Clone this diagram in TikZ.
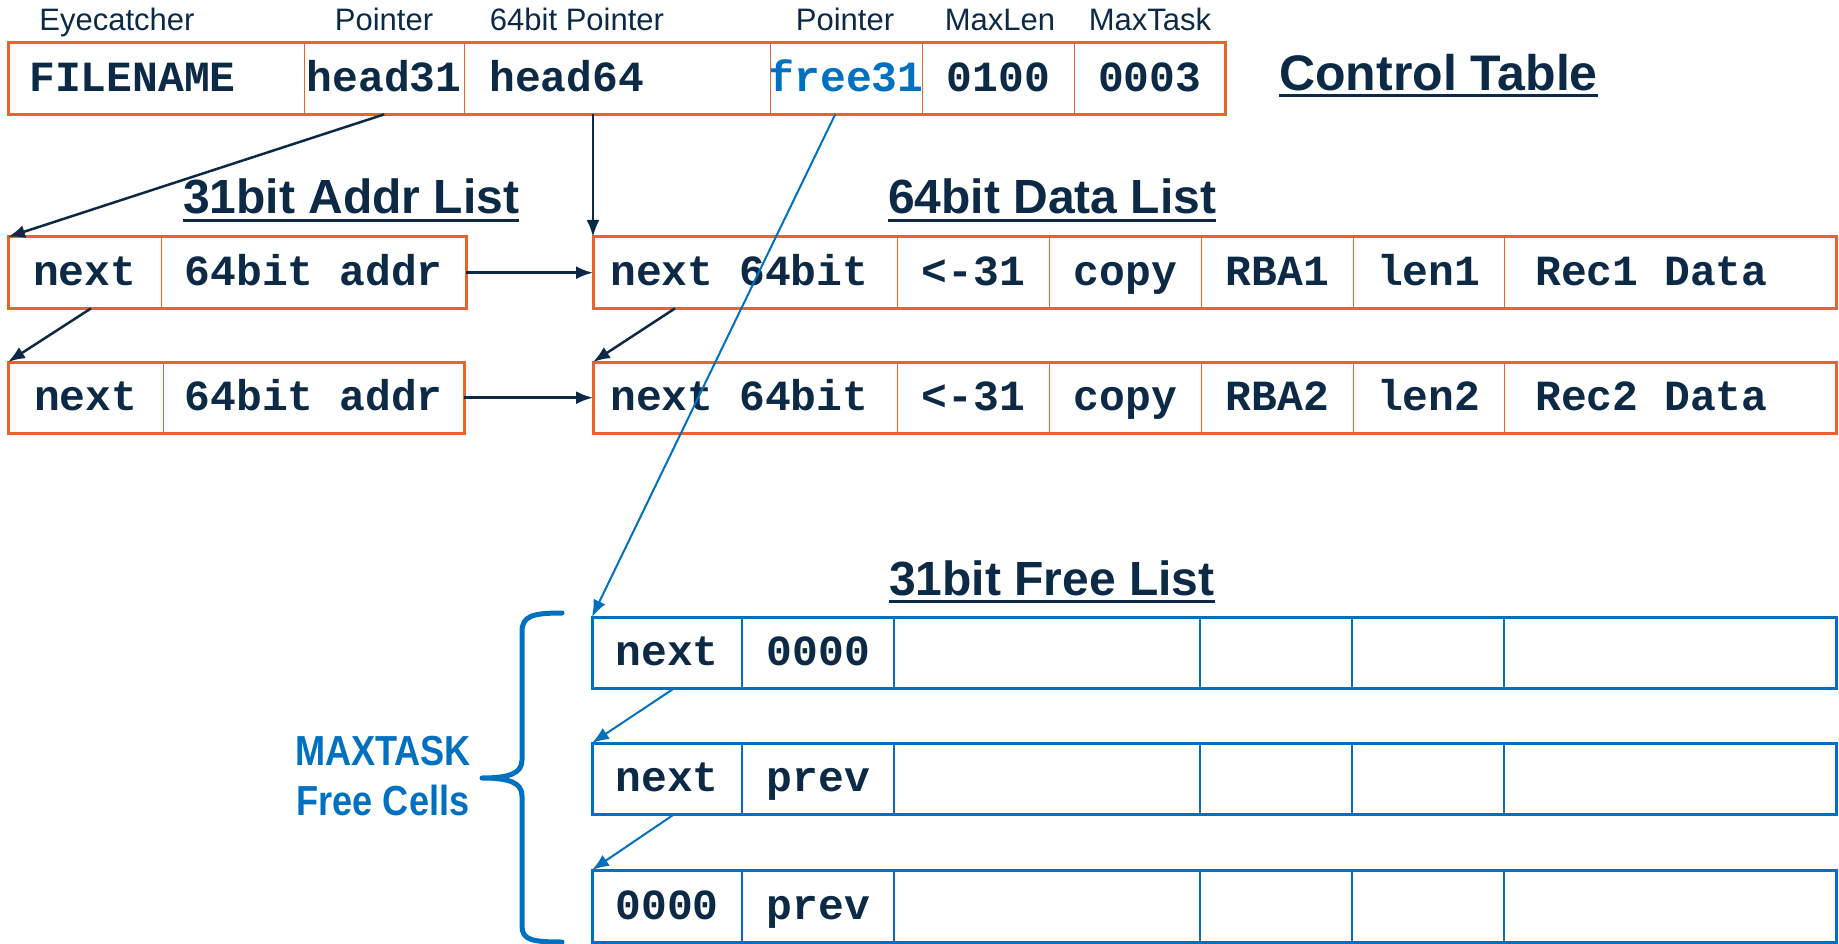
\documentclass[tikz,border=0pt]{standalone}
\usepackage{fontspec}
\setmainfont{Liberation Sans}
\newfontfamily\codefont{Liberation Mono}
\newfontfamily\sidefont[FakeStretch=0.86]{Liberation Sans}
\usetikzlibrary{arrows.meta}
\definecolor{navy}{HTML}{0C2A46}
\definecolor{boxorange}{HTML}{E8642C}
\definecolor{ptrblue}{HTML}{0070C0}
% left-set cell text in a box of fixed width
\newcommand\lefttext[2]{\makebox[#1][l]{#2}}
\tikzset{
  cell/.style={anchor=north west, inner sep=0pt, minimum height=71pt,
    text height=32pt, text depth=6pt,
    font=\codefont\bfseries\fontsize{43}{48}\selectfont, text=navy},
  hdr/.style={anchor=base, inner sep=0pt, font=\fontsize{31}{36}\selectfont, text=navy},
  ttl/.style={anchor=base west, inner sep=0pt, font=\bfseries\fontsize{48}{56}\selectfont, text=navy},
  uline/.style={draw=navy, line width=3pt},
  obox/.style={draw=boxorange, line width=3pt},
  odiv/.style={draw=boxorange, line width=1.8pt},
  bbox/.style={draw=ptrblue, line width=3pt},
  bdiv/.style={draw=ptrblue, line width=2pt},
  navyptr/.style={draw=navy, line width=2.5pt, -{Latex[length=17pt,width=13pt]}},
  blueptr/.style={draw=ptrblue, line width=2pt, -{Latex[length=17pt,width=13pt]}},
}
\begin{document}
\begin{tikzpicture}[x=1pt,y=-1pt]
\useasboundingbox (0,0) rectangle (1839,944);

% field captions above the control table
\node[hdr] (capEye) at (117,31) {Eyecatcher};
\node[hdr] (capP1) at (384,31) {Pointer};
\node[hdr] (capP64) at (577,31) {64bit Pointer};
\node[hdr] (capP2) at (845,31) {Pointer};
\node[hdr] (capLen) at (1000,31) {MaxLen};
\node[hdr] (capTask) at (1150,31) {MaxTask};

% control table
\node[cell, inner xsep=21pt] (ctA) at (8,43) {\lefttext{254pt}{FILENAME}};
\node[cell, minimum width=160pt] (ctB) at (304,43) {head31};
\node[cell, inner xsep=25pt] (ctC) at (464,43) {\lefttext{256pt}{head64}};
\node[cell, minimum width=152pt, text=ptrblue] (ctD) at (770,43) {\makebox[150pt]{free31}};
\node[cell, minimum width=152pt] (ctE) at (922,43) {0100};
\node[cell, minimum width=151pt] (ctF) at (1074,43) {0003};
\draw[obox] (ctA.north west) rectangle (ctF.south east);
\foreach \c in {ctA,ctB,ctC,ctD,ctE} \draw[odiv] (\c.north east) -- (\c.south east);

% titles
\node[ttl, font=\bfseries\fontsize{50}{58}\selectfont] (tCtl) at (1279,91) {Control Table};
\draw[uline] ([yshift=-5pt]tCtl.base west) -- ([yshift=-5pt]tCtl.base east);
\node[ttl] (tAddr) at (183,214) {31bit Addr List};
\draw[uline] ([yshift=-7pt]tAddr.base west) -- ([yshift=-7pt]tAddr.base east);
\node[ttl] (tData) at (888,214) {64bit Data List};
\draw[uline] ([yshift=-7pt]tData.base west) -- ([yshift=-7pt]tData.base east);
\node[ttl] (tFree) at (889,595) {31bit Free List};
\draw[uline] ([yshift=-6pt]tFree.base west) -- ([yshift=-6pt]tFree.base east);

% 31bit address list
\node[cell, minimum width=153pt] (aA) at (8,237) {next};
\node[cell, minimum width=305pt] (aB) at (161,237) {64bit addr};
\draw[obox] (aA.north west) rectangle (aB.south east);
\draw[odiv] (aA.north east) -- (aA.south east);
\node[cell, minimum width=155pt] (bA) at (8,362) {next};
\node[cell, minimum width=301pt] (bB) at (163,362) {64bit addr};
\draw[obox] (bA.north west) rectangle (bB.south east);
\draw[odiv] (bA.north east) -- (bA.south east);

% 64bit data list
\node[cell, inner xsep=17pt] (dA) at (593,237) {\lefttext{270pt}{next 64bit}};
\node[cell, minimum width=152pt] (dB) at (897,237) {<-31};
\node[cell, minimum width=152pt] (dC) at (1049,237) {copy};
\node[cell, minimum width=152pt] (dD) at (1201,237) {RBA1};
\node[cell, minimum width=151pt] (dE) at (1353,237) {len1};
\node[cell, inner xsep=31pt] (dF) at (1504,237) {\lefttext{270pt}{Rec1 Data}};
\draw[obox] (dA.north west) rectangle (dF.south east);
\foreach \c in {dA,dB,dC,dD,dE} \draw[odiv] (\c.north east) -- (\c.south east);

\node[cell, inner xsep=17pt] (eA) at (593,362) {\lefttext{270pt}{next 64bit}};
\node[cell, minimum width=152pt] (eB) at (897,362) {<-31};
\node[cell, minimum width=152pt] (eC) at (1049,362) {copy};
\node[cell, minimum width=152pt] (eD) at (1201,362) {RBA2};
\node[cell, minimum width=151pt] (eE) at (1353,362) {len2};
\node[cell, inner xsep=31pt] (eF) at (1504,362) {\lefttext{270pt}{Rec2 Data}};
\draw[obox] (eA.north west) rectangle (eF.south east);
\foreach \c in {eA,eB,eC,eD,eE} \draw[odiv] (\c.north east) -- (\c.south east);

% 31bit free list
\foreach \r/\y/\h/\ta/\tb in {f/617/71/next/0000, g/743/71/next/prev, h/870/72/0000/prev}{
  \node[cell, minimum height=\h pt, minimum width=150pt] (\r A) at (592,\y) {\ta};
  \node[cell, minimum height=\h pt, minimum width=152pt] (\r B) at (742,\y) {\tb};
  \node[cell, minimum height=\h pt, minimum width=306pt] (\r C) at (894,\y) {};
  \node[cell, minimum height=\h pt, minimum width=152pt] (\r D) at (1200,\y) {};
  \node[cell, minimum height=\h pt, minimum width=152pt] (\r E) at (1352,\y) {};
  \node[cell, minimum height=\h pt, minimum width=332pt] (\r F) at (1504,\y) {};
  \draw[bbox] (\r A.north west) rectangle (\r F.south east);
  \foreach \c in {A,B,C,D,E} \draw[bdiv] (\r\c.north east) -- (\r\c.south east);
}

% brace grouping the free cells
\draw[ptrblue, line width=5pt, line cap=round, line join=round]
  (562,613) .. controls (532,613) and (522,616) .. (522,632) -- (522,760)
  .. controls (522,773) and (510,778) .. (482,778)
  .. controls (510,778) and (522,783) .. (522,796) -- (522,926)
  .. controls (522,940) and (532,942) .. (562,942);
\node[inner sep=0pt, align=center, text=ptrblue,
  font=\sidefont\bfseries\fontsize{42}{50}\selectfont] (mtask) at (383,776) {MAXTASK\\Free Cells};

% pointers
\draw[navyptr] (ctB.south) -- (aA.north west);
\draw[navyptr] (ctC.south -| dA.north west) -- (dA.north west);
\draw[navyptr] (aB.east) -- (dA.west);
\draw[navyptr] (bB.east) -- (eA.west);
\draw[navyptr] ([xshift=83pt]aA.south west) -- (bA.north west);
\draw[navyptr] ([xshift=82pt]dA.south west) -- (eA.north west);
\draw[blueptr] ([xshift=82pt]fA.south west) -- (gA.north west);
\draw[blueptr] ([xshift=82pt]gA.south west) -- (hA.north west);
\draw[blueptr] ([xshift=-11pt]ctD.south) -- (fA.north west);
\end{tikzpicture}
\end{document}
